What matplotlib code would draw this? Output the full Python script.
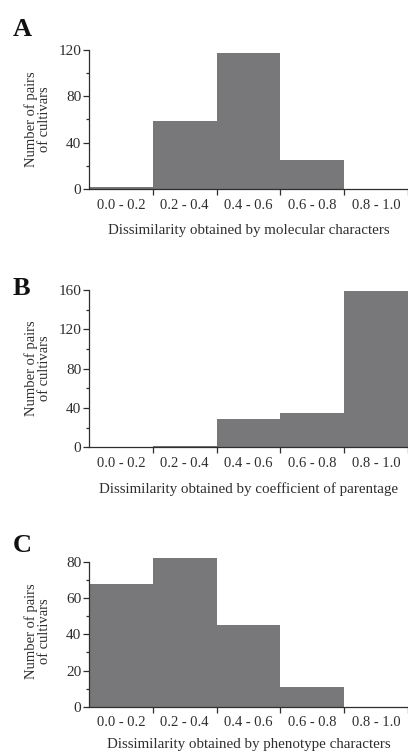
import numpy as np
import matplotlib
matplotlib.use('Agg')
import matplotlib.pyplot as plt

bins = ['0.0 - 0.2', '0.2 - 0.4', '0.4 - 0.6', '0.6 - 0.8', '0.8 - 1.0']
counts_a = [2, 59, 117, 25, 0]
counts_b = [0.5, 1.5, 29, 35, 159]
counts_c = [68, 82, 45, 11, 0]

xlabel_a = 'Dissimilarity obtained by molecular characters'
xlabel_b = 'Dissimilarity obtained by coefficient of parentage'
xlabel_c = 'Dissimilarity obtained by phenotype characters'

plt.rcParams['font.family'] = ['Liberation Serif', 'DejaVu Serif']
bar_color = '#78787a'
ink = '#2e2e2e'

fig = plt.figure(figsize=(4.08, 7.53), dpi=100)

# letter, data, xlabel, top tick, ylim top, major, minor, axes rect, letter y, xlabel pad
panels = [
    ('A', counts_a, xlabel_a, 120, 120, 40, 20, [0.218, 0.749, 0.782, 0.185], 0.952, 9),
    ('B', counts_b, xlabel_b, 160, 160, 40, 20, [0.218, 0.406, 0.782, 0.209], 0.608, 9),
    ('C', counts_c, xlabel_c, 80, 84, 20, 10, [0.218, 0.0615, 0.782, 0.2017], 0.267, 6.5),
]

for letter, counts, xlab, ytop, ylim_top, major, minor, rect, ly, xpad in panels:
    ax = fig.add_axes(rect)
    pos = np.arange(len(bins))
    ax.bar(pos + 0.5, counts, width=1.0, color=bar_color, edgecolor='none')
    ax.set_xlim(0, len(bins))
    ax.set_ylim(0, ylim_top)
    ax.spines['top'].set_visible(False)
    ax.spines['right'].set_visible(False)
    ax.spines['left'].set_bounds(0, ytop)
    for s in ['left', 'bottom']:
        ax.spines[s].set_color(ink)
        ax.spines[s].set_linewidth(0.9)
    ax.set_yticks(np.arange(0, ytop + 1, major))
    ax.set_yticks(np.arange(minor, ytop, major), minor=True)
    ax.set_xticks(np.arange(1, len(bins) + 1))
    ax.set_xticklabels([])
    ax.set_xticks(pos + 0.5, minor=True)
    ax.set_xticklabels(bins, minor=True)
    ax.tick_params(axis='x', which='minor', length=0, pad=7, labelsize=10.5, colors=ink)
    ax.tick_params(axis='x', which='major', length=4, width=0.9, color=ink)
    ax.tick_params(axis='y', which='major', length=4.5, width=0.9, pad=1, labelsize=11, colors=ink)
    ax.tick_params(axis='y', which='minor', length=2.5, width=0.9, color=ink)
    ax.set_ylabel('Number of pairs\nof cultivars', fontsize=10.5, color=ink, va='center', linespacing=0.95)
    ax.yaxis.set_label_coords(-0.161, 0.5)
    ax.set_xlabel(xlab, fontsize=10.8, color=ink, labelpad=xpad)
    fig.text(0.032, ly, letter, fontsize=19, fontweight='bold', color='#111111', va='baseline', ha='left')

fig.savefig('out.png', dpi=100)
